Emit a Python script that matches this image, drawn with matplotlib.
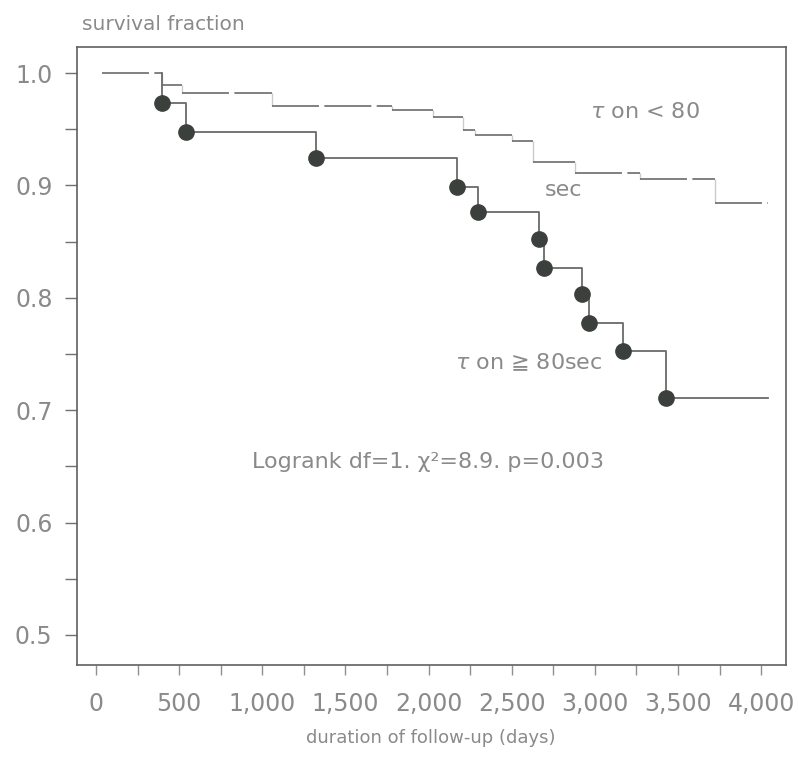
import numpy as np
import matplotlib
matplotlib.use("Agg")
import matplotlib.pyplot as plt
from matplotlib.ticker import MultipleLocator, FuncFormatter

plt.rcParams['font.family'] = ['DejaVu Sans', 'Noto Sans CJK JP']

# tau on < 80 sec group (dashed-looking curve, no markers)
short_days = [36, 397, 517, 1059, 1780, 2027, 2208, 2280, 2502, 2629, 2881, 3272, 3723]
short_surv = [1.0, 0.989, 0.982, 0.971, 0.967, 0.961, 0.949, 0.945, 0.940, 0.921, 0.911, 0.906, 0.884]

# tau on >= 80 sec group (solid steps, dot at every event)
long_days = [397, 541, 1323, 2171, 2298, 2664, 2695, 2923, 2965, 3170, 3428]
long_surv = [0.973, 0.948, 0.924, 0.899, 0.876, 0.852, 0.827, 0.803, 0.778, 0.753, 0.711]

last_day = 4042

text_col = '#8a8a8a'
line_col = '#6a6a6a'

fig = plt.figure(figsize=(7.98, 7.60), dpi=100)
ax = fig.add_axes([0.0965, 0.125, 0.8885, 0.813])

# short group: broken horizontal pieces + faint drops
ends = short_days[1:] + [last_day]
ax.hlines(short_surv, short_days, ends, color='#767676', lw=1.3, linestyles=[(0, (26, 3))])
ax.vlines(short_days[1:], short_surv[1:], short_surv[:-1], color=line_col, lw=1.0, alpha=0.35)

# long group: step curve with markers
xs = np.r_[long_days[0], long_days, last_day]
ys = np.r_[1.0, long_surv, long_surv[-1]]
ax.step(xs, ys, where='post', color=line_col, lw=1.3)
ax.plot(long_days, long_surv, 'o', ms=11, color='#3c403c', zorder=3)

ax.set_xlim(-114, 4150)
ax.set_ylim(0.4733, 1.0231)

ax.xaxis.set_major_locator(MultipleLocator(500))
ax.xaxis.set_minor_locator(MultipleLocator(250))
ax.yaxis.set_major_locator(MultipleLocator(0.1))
ax.yaxis.set_minor_locator(MultipleLocator(0.05))
ax.xaxis.set_major_formatter(FuncFormatter(lambda v, p: "{:,}".format(int(v))))
ax.yaxis.set_major_formatter(FuncFormatter(lambda v, p: "{:.1f}".format(v)))

ax.tick_params(axis='y', which='both', direction='out', length=8.6, width=1.0,
               color='#707070', labelcolor=text_col, labelsize=17, pad=9)
ax.tick_params(axis='x', which='both', direction='out', length=7.5, width=1.0,
               color='#909090', labelcolor=text_col, labelsize=17, pad=12)
for s in ax.spines.values():
    s.set_color('#606060')
    s.set_linewidth(1.2)

# annotations
ax.text(2971, 0.965, r"$\tau$ on < 80", fontsize=16, color=text_col, va='center')
ax.text(2701, 0.896, "sec", fontsize=16, color=text_col, va='center')
ax.text(2159, 0.743, r"$\tau$ on ≧ 80sec", fontsize=16, color=text_col, va='center')
ax.text(938, 0.654, "Logrank df=1. χ²=8.9. p=0.003", fontsize=16, color=text_col, va='center')

fig.text(82 / 798, 1 - 25 / 760, "survival fraction", fontsize=14.5, color=text_col, va='center')
fig.text(431 / 798, 1 - 738 / 760, "duration of follow-up (days)", fontsize=13, color=text_col,
         va='center', ha='center')

plt.savefig("out.png", dpi=100)
